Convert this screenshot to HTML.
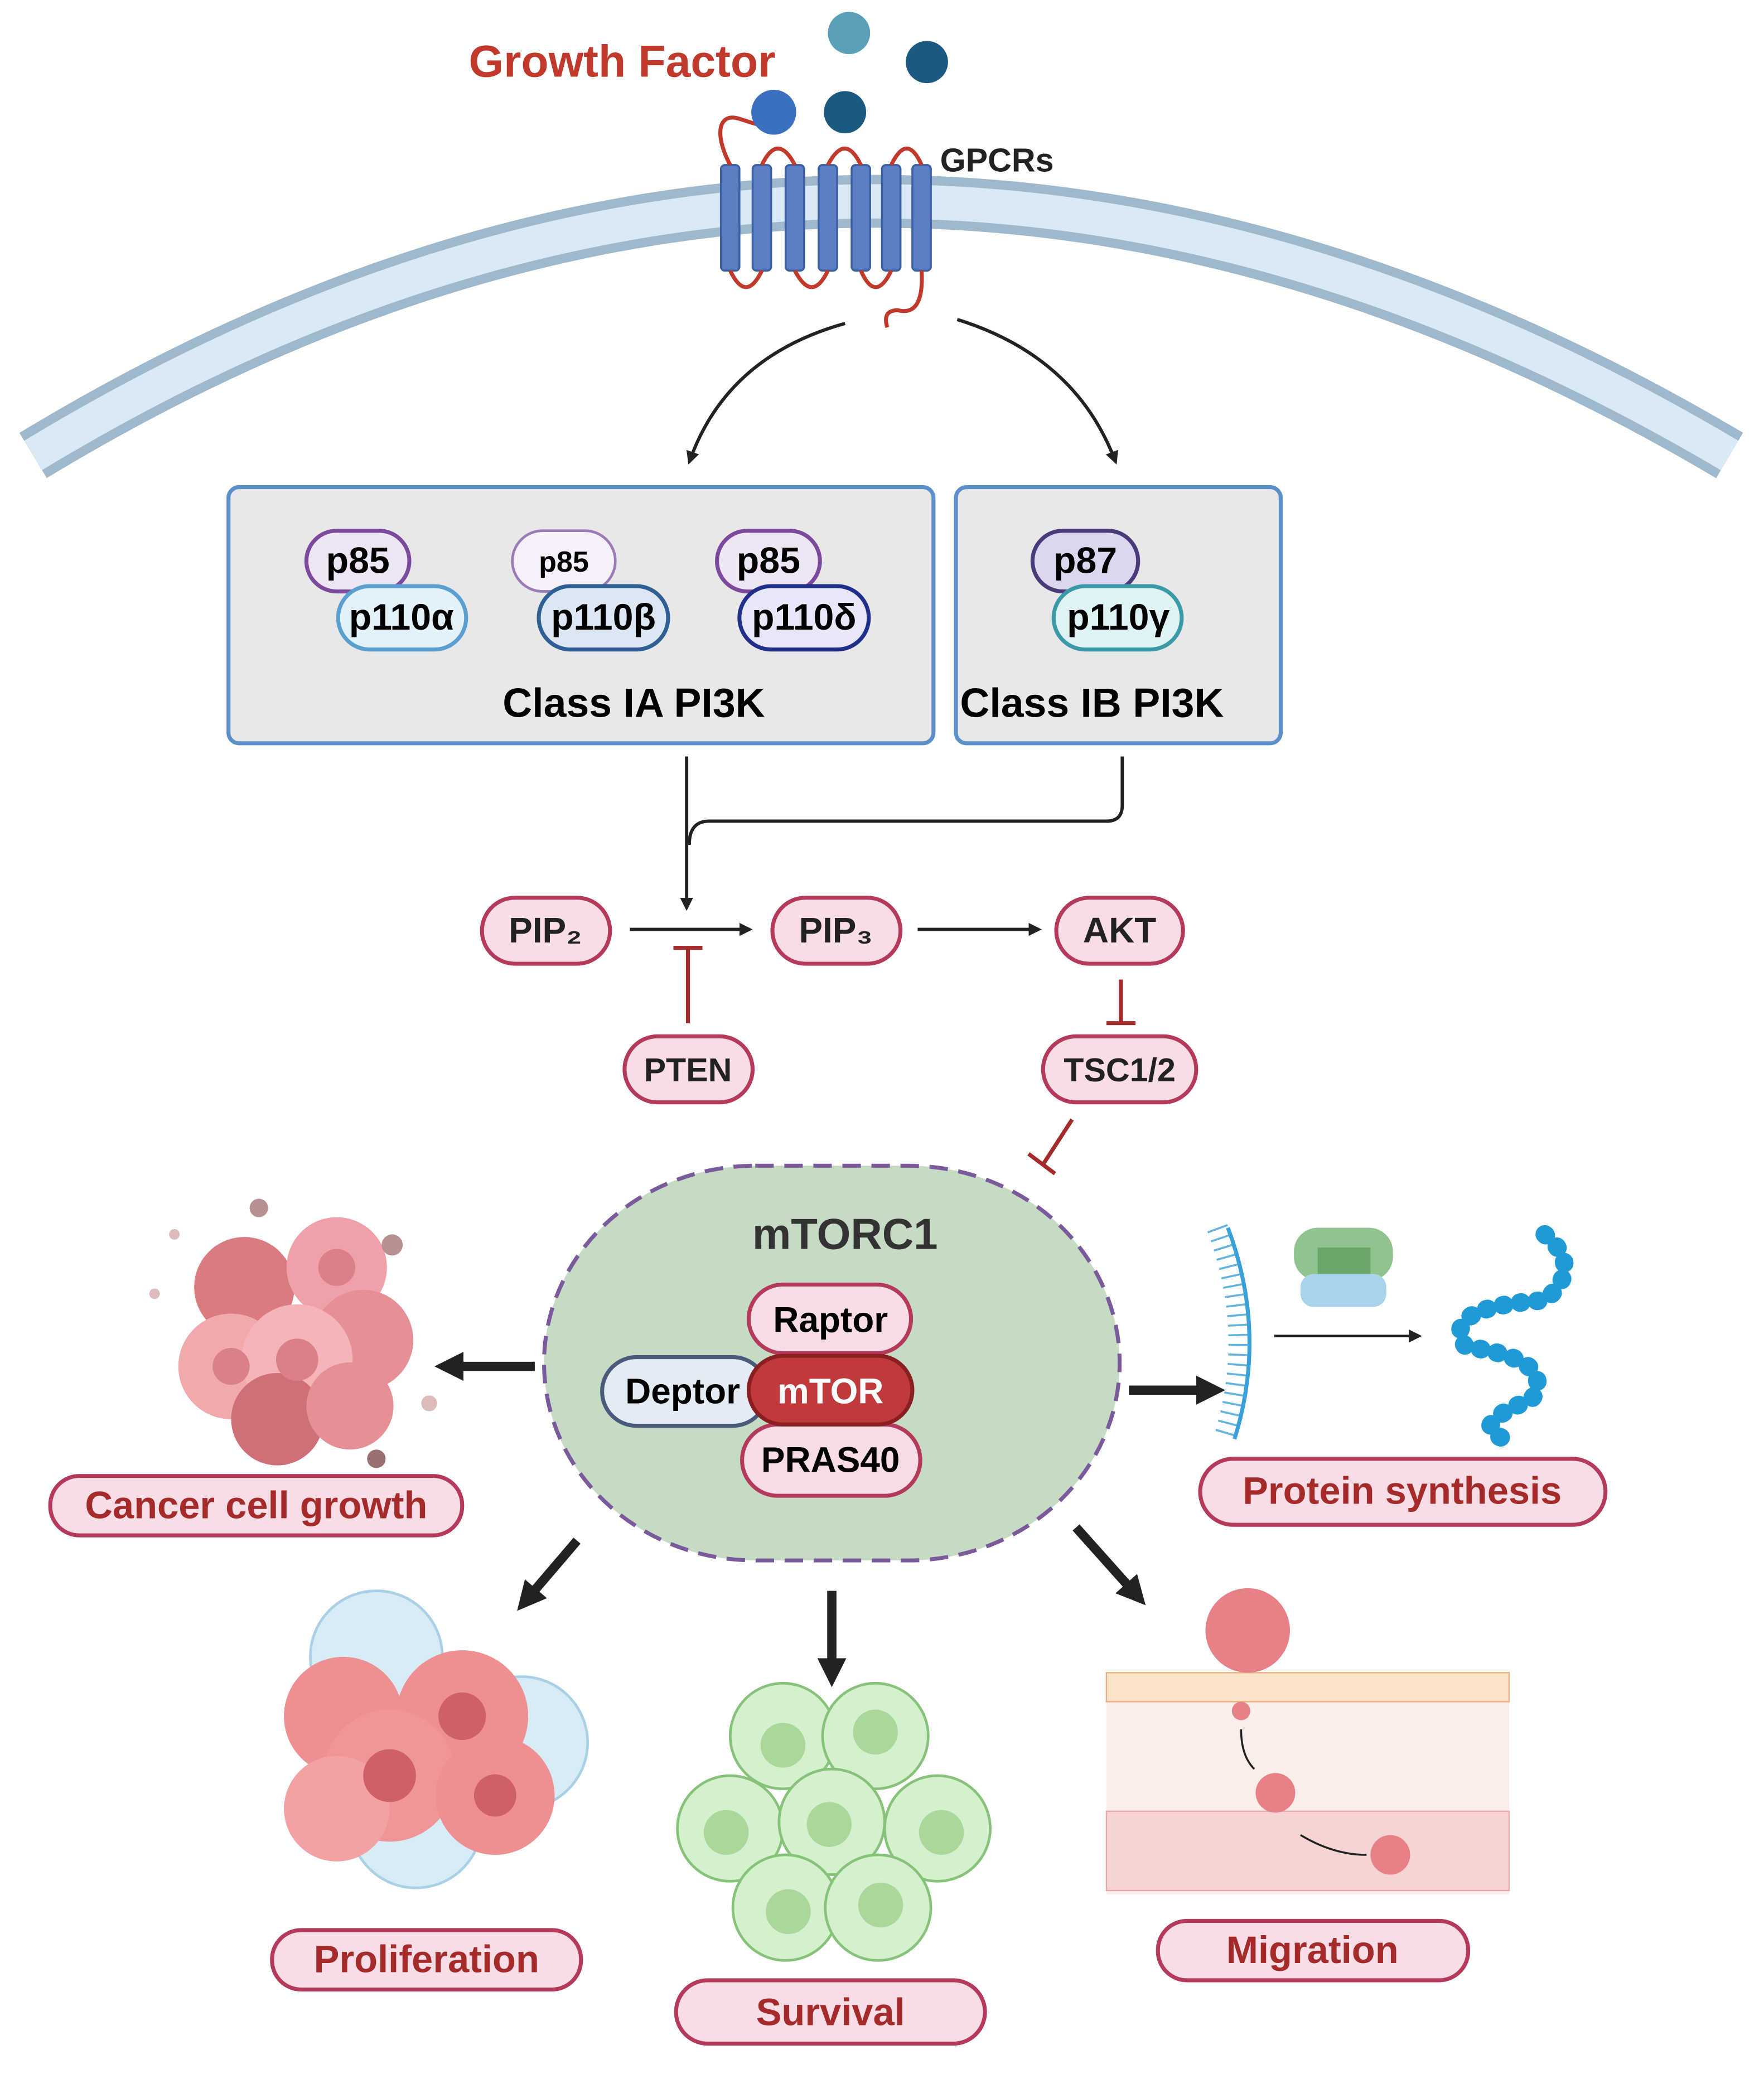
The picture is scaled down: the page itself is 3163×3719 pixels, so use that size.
<!DOCTYPE html>
<html><head><meta charset="utf-8"><style>
html,body{margin:0;padding:0;background:#fff;}
svg{display:block;}
text{font-family:"Liberation Sans",Arial,sans-serif;font-weight:bold;}
</style></head><body>
<svg width="3163" height="3719" viewBox="0 0 1336 1571" xmlns="http://www.w3.org/2000/svg">
<defs>
<marker id="ah" markerWidth="10" markerHeight="10" refX="8" refY="5" orient="auto" markerUnits="userSpaceOnUse"><path d="M0,0 L10,5 L0,10 z" fill="#222"/></marker>
<marker id="ahb" markerWidth="24" markerHeight="24" refX="6" refY="12" orient="auto" markerUnits="userSpaceOnUse"><path d="M0,1 L22,12 L0,23 z" fill="#222"/></marker>
</defs>
<!-- membrane -->
<path d="M25,345 Q660,-40 1310,345" fill="none" stroke="#9fb8cb" stroke-width="40"/>
<path d="M25,345 Q660,-40 1310,345" fill="none" stroke="#d9eaf5" stroke-width="26"/>
<!-- GPCR -->
<g fill="#5b7fc4" stroke="#3d5fa3" stroke-width="1.5">
<rect x="546" y="125" width="14" height="80" rx="3"/><rect x="570" y="125" width="14" height="80" rx="3"/>
<rect x="595" y="125" width="14" height="80" rx="3"/><rect x="620" y="125" width="14" height="80" rx="3"/>
<rect x="645" y="125" width="14" height="80" rx="3"/><rect x="668" y="125" width="14" height="80" rx="3"/>
<rect x="691" y="125" width="14" height="80" rx="3"/>
</g>
<path d="M553,125 C540,100 545,85 560,90 C575,95 590,100 600,90 M577,125 Q589,100 602,125 M627,125 Q640,100 652,125 M675,125 Q687,100 698,125 M553,205 Q565,230 577,205 M602,205 Q615,230 627,205 M652,205 Q663,230 675,205 M698,205 Q700,240 680,235 Q668,235 672,248" fill="none" stroke="#c0392b" stroke-width="3"/>
<circle cx="643" cy="25" r="16" fill="#5aa0b8"/><circle cx="702" cy="47" r="16" fill="#1b5a80"/>
<circle cx="586" cy="85" r="17" fill="#3b6fc0"/><circle cx="640" cy="85" r="16" fill="#1b5a80"/>
<text x="355" y="58" font-size="34" fill="#c0392b">Growth Factor</text>
<text x="712" y="130" font-size="25" fill="#222">GPCRs</text>
<path d="M640,245 Q550,270 522,350" fill="none" stroke="#222" stroke-width="2.5" marker-end="url(#ah)"/>
<path d="M725,242 Q815,270 845,350" fill="none" stroke="#222" stroke-width="2.5" marker-end="url(#ah)"/>
<rect x="173" y="369" width="534" height="194" rx="8" fill="#e8e8e8" stroke="#5b8fc9" stroke-width="3"/>
<rect x="724" y="369" width="246" height="194" rx="8" fill="#e8e8e8" stroke="#5b8fc9" stroke-width="3"/>
<g font-size="28" text-anchor="middle">
<rect x="232" y="402" width="78" height="46" rx="23" fill="#efe6f5" stroke="#7b4a9c" stroke-width="3"/><text x="271" y="434">p85</text>
<rect x="256" y="444" width="97" height="48" rx="24" fill="#e3f1fa" stroke="#5b9fd0" stroke-width="3"/><text x="304" y="477">p110α</text>
<rect x="388" y="402" width="78" height="46" rx="23" fill="#f6f0fa" stroke="#9b7ab8" stroke-width="2"/><text x="427" y="433" font-size="22" font-weight="normal">p85</text>
<rect x="408" y="444" width="98" height="48" rx="24" fill="#dbe7f2" stroke="#2e5f95" stroke-width="3"/><text x="457" y="477">p110β</text>
<rect x="543" y="402" width="78" height="46" rx="23" fill="#efe6f5" stroke="#7b4a9c" stroke-width="3"/><text x="582" y="434">p85</text>
<rect x="560" y="444" width="98" height="48" rx="24" fill="#e7e7f7" stroke="#1f2f8a" stroke-width="3"/><text x="609" y="477">p110δ</text>
<rect x="782" y="402" width="80" height="46" rx="23" fill="#ddd6ef" stroke="#4b3a7a" stroke-width="3"/><text x="822" y="434">p87</text>
<rect x="798" y="444" width="97" height="48" rx="24" fill="#dff3f5" stroke="#3a9aa8" stroke-width="3"/><text x="847" y="477">p110γ</text>
<text x="480" y="543" font-size="31">Class IA PI3K</text>
<text x="827" y="543" font-size="31">Class IB PI3K</text>
</g>
<path d="M520,573 L520,688" fill="none" stroke="#222" stroke-width="2.5" marker-end="url(#ah)"/>
<path d="M850,573 L850,610 Q850,622 838,622 L537,622 Q522,622 522,640" fill="none" stroke="#222" stroke-width="2.5"/>
<g font-size="27" text-anchor="middle" fill="#222">
<rect x="365" y="680" width="97" height="50" rx="25" fill="#f8dde6" stroke="#b5395a" stroke-width="3"/><text x="413" y="714">PIP₂</text>
<rect x="585" y="680" width="97" height="50" rx="25" fill="#f8dde6" stroke="#b5395a" stroke-width="3"/><text x="633" y="714">PIP₃</text>
<rect x="800" y="680" width="96" height="50" rx="25" fill="#f8dde6" stroke="#b5395a" stroke-width="3"/><text x="848" y="714">AKT</text>
<rect x="473" y="785" width="97" height="50" rx="25" fill="#f8dde6" stroke="#b5395a" stroke-width="3"/><text x="521" y="819" font-size="25">PTEN</text>
<rect x="790" y="785" width="116" height="50" rx="25" fill="#f8dde6" stroke="#b5395a" stroke-width="3"/><text x="848" y="819" font-size="25">TSC1/2</text>
</g>
<path d="M477,704 L568,704" stroke="#222" stroke-width="2.5" marker-end="url(#ah)"/>
<path d="M695,704 L787,704" stroke="#222" stroke-width="2.5" marker-end="url(#ah)"/>
<g stroke="#a52a2a" stroke-width="3" fill="none">
<path d="M521,775 L521,718 M510,718 L532,718"/>
<path d="M849,742 L849,775 M838,775 L860,775"/>
<path d="M812,848 L790,882 M779,874 L799,889"/>
</g>
<rect x="412" y="883" width="436" height="299" rx="160" ry="150" fill="#c6dbc4" stroke="#7a5a9a" stroke-width="3" stroke-dasharray="14,8"/>
<text x="640" y="946" font-size="33" text-anchor="middle" fill="#333">mTORC1</text>
<g font-size="27" text-anchor="middle">
<rect x="456" y="1028" width="125" height="52" rx="26" fill="#e3ecf4" stroke="#4a5a7a" stroke-width="3"/><text x="517" y="1063">Deptor</text>
<rect x="567" y="973" width="123" height="52" rx="26" fill="#f8dde6" stroke="#b5395a" stroke-width="3"/><text x="629" y="1009">Raptor</text>
<rect x="562" y="1079" width="135" height="54" rx="27" fill="#f8dde6" stroke="#b5395a" stroke-width="3"/><text x="629" y="1115">PRAS40</text>
<rect x="567" y="1027" width="124" height="52" rx="26" fill="#c0393b" stroke="#8a1f22" stroke-width="3"/><text x="629" y="1063" fill="#fff">mTOR</text>
</g>
<g stroke="#222" stroke-width="7" fill="none" marker-end="url(#ahb)">
<path d="M405,1035 L345,1035"/><path d="M855,1053 L912,1053"/>
<path d="M437,1167 L402,1208"/><path d="M630,1205 L630,1262"/><path d="M815,1157 L857,1204"/>
</g>
<g>
<circle cx="185" cy="975" r="38" fill="#d97b80"/><circle cx="255" cy="960" r="38" fill="#f0a0a8"/>
<circle cx="175" cy="1035" r="40" fill="#f2a9ae"/><circle cx="275" cy="1015" r="38" fill="#e58f96"/>
<circle cx="225" cy="1030" r="42" fill="#f5b5b8"/><circle cx="210" cy="1075" r="35" fill="#cf6f78"/>
<circle cx="265" cy="1065" r="33" fill="#e58f96"/>
<circle cx="225" cy="1030" r="16" fill="#d98088"/><circle cx="255" cy="960" r="14" fill="#d98088"/><circle cx="175" cy="1035" r="14" fill="#d98088"/>
<circle cx="196" cy="915" r="7" fill="#b89090"/><circle cx="297" cy="943" r="8" fill="#b89090"/><circle cx="285" cy="1105" r="7" fill="#9a7070"/>
<circle cx="325" cy="1063" r="6" fill="#dbb"/><circle cx="132" cy="935" r="4" fill="#dbb"/><circle cx="117" cy="980" r="4" fill="#dbb"/>
</g>
<path d="M930,930 Q960,1010 935,1090" fill="none" stroke="#3aa0d8" stroke-width="3"/>
<path d="M930,930 Q960,1010 935,1090" fill="none" stroke="#3aa0d8" stroke-width="16" stroke-dasharray="1.5,6" transform="translate(-8,0)" opacity="0.8"/>
<rect x="980" y="930" width="75" height="40" rx="18" fill="#8fc48f"/><rect x="998" y="945" width="40" height="25" fill="#6aa86a"/><rect x="985" y="965" width="65" height="25" rx="10" fill="#a9d3ea"/>
<path d="M965,1012 L1075,1012" stroke="#222" stroke-width="2" marker-end="url(#ah)"/>
<path d="M1170,935 Q1200,960 1170,985 Q1090,990 1110,1020 Q1180,1030 1160,1060 Q1110,1080 1140,1090" fill="none" stroke="#1f9ad6" stroke-width="14" stroke-dasharray="1,12" stroke-linecap="round"/>
<g font-size="29" text-anchor="middle" fill="#a52a2a">
<rect x="38" y="1118" width="312" height="45" rx="22" fill="#f8dde6" stroke="#b5395a" stroke-width="3"/><text x="194" y="1150">Cancer cell growth</text>
<rect x="909" y="1105" width="307" height="50" rx="25" fill="#f8dde6" stroke="#b5395a" stroke-width="3"/><text x="1062" y="1139">Protein synthesis</text>
<rect x="206" y="1462" width="234" height="45" rx="22" fill="#f8dde6" stroke="#b5395a" stroke-width="3"/><text x="323" y="1494">Proliferation</text>
<rect x="512" y="1500" width="234" height="48" rx="24" fill="#f8dde6" stroke="#b5395a" stroke-width="3"/><text x="629" y="1534">Survival</text>
<rect x="877" y="1455" width="235" height="45" rx="22" fill="#f8dde6" stroke="#b5395a" stroke-width="3"/><text x="994" y="1487">Migration</text>
</g>
<g>
<circle cx="285" cy="1255" r="50" fill="#d8ecf5" stroke="#a9d0e6" stroke-width="2"/><circle cx="395" cy="1320" r="50" fill="#d8ecf5" stroke="#a9d0e6" stroke-width="2"/>
<circle cx="315" cy="1380" r="50" fill="#d8ecf5" stroke="#a9d0e6" stroke-width="2"/>
<circle cx="260" cy="1300" r="45" fill="#ee8f92"/><circle cx="350" cy="1300" r="50" fill="#ee8f92"/>
<circle cx="295" cy="1345" r="50" fill="#f09598"/><circle cx="375" cy="1360" r="45" fill="#ee8f92"/>
<circle cx="255" cy="1370" r="40" fill="#f2a2a5"/>
<circle cx="295" cy="1345" r="20" fill="#cf5f68"/><circle cx="350" cy="1300" r="18" fill="#cf5f68"/><circle cx="375" cy="1360" r="16" fill="#cf5f68"/>
</g>
<g fill="#d5f0cc" stroke="#86c27a" stroke-width="2">
<circle cx="593" cy="1315" r="40"/><circle cx="663" cy="1315" r="40"/>
<circle cx="553" cy="1385" r="40"/><circle cx="630" cy="1380" r="40"/><circle cx="710" cy="1385" r="40"/>
<circle cx="595" cy="1445" r="40"/><circle cx="665" cy="1445" r="40"/>
</g>
<g fill="#a9d89a"><circle cx="593" cy="1322" r="17"/><circle cx="663" cy="1312" r="17"/><circle cx="550" cy="1388" r="17"/><circle cx="628" cy="1382" r="17"/><circle cx="713" cy="1388" r="17"/><circle cx="597" cy="1448" r="17"/><circle cx="667" cy="1443" r="17"/></g>
<rect x="838" y="1288" width="305" height="147" fill="#fbeeea"/>
<rect x="838" y="1267" width="305" height="22" fill="#fbe3c8" stroke="#e8b080"/>
<rect x="838" y="1372" width="305" height="60" fill="#f7d4d4" stroke="#e8a8a8"/>
<circle cx="945" cy="1235" r="32" fill="#e88088"/><circle cx="940" cy="1296" r="7" fill="#e88088"/>
<circle cx="966" cy="1358" r="15" fill="#e88088"/><circle cx="1053" cy="1405" r="15" fill="#e88088"/>
<path d="M940,1310 Q940,1330 950,1340 M985,1390 Q1010,1405 1035,1405" fill="none" stroke="#222" stroke-width="1.5"/>
</svg>
</body></html>
